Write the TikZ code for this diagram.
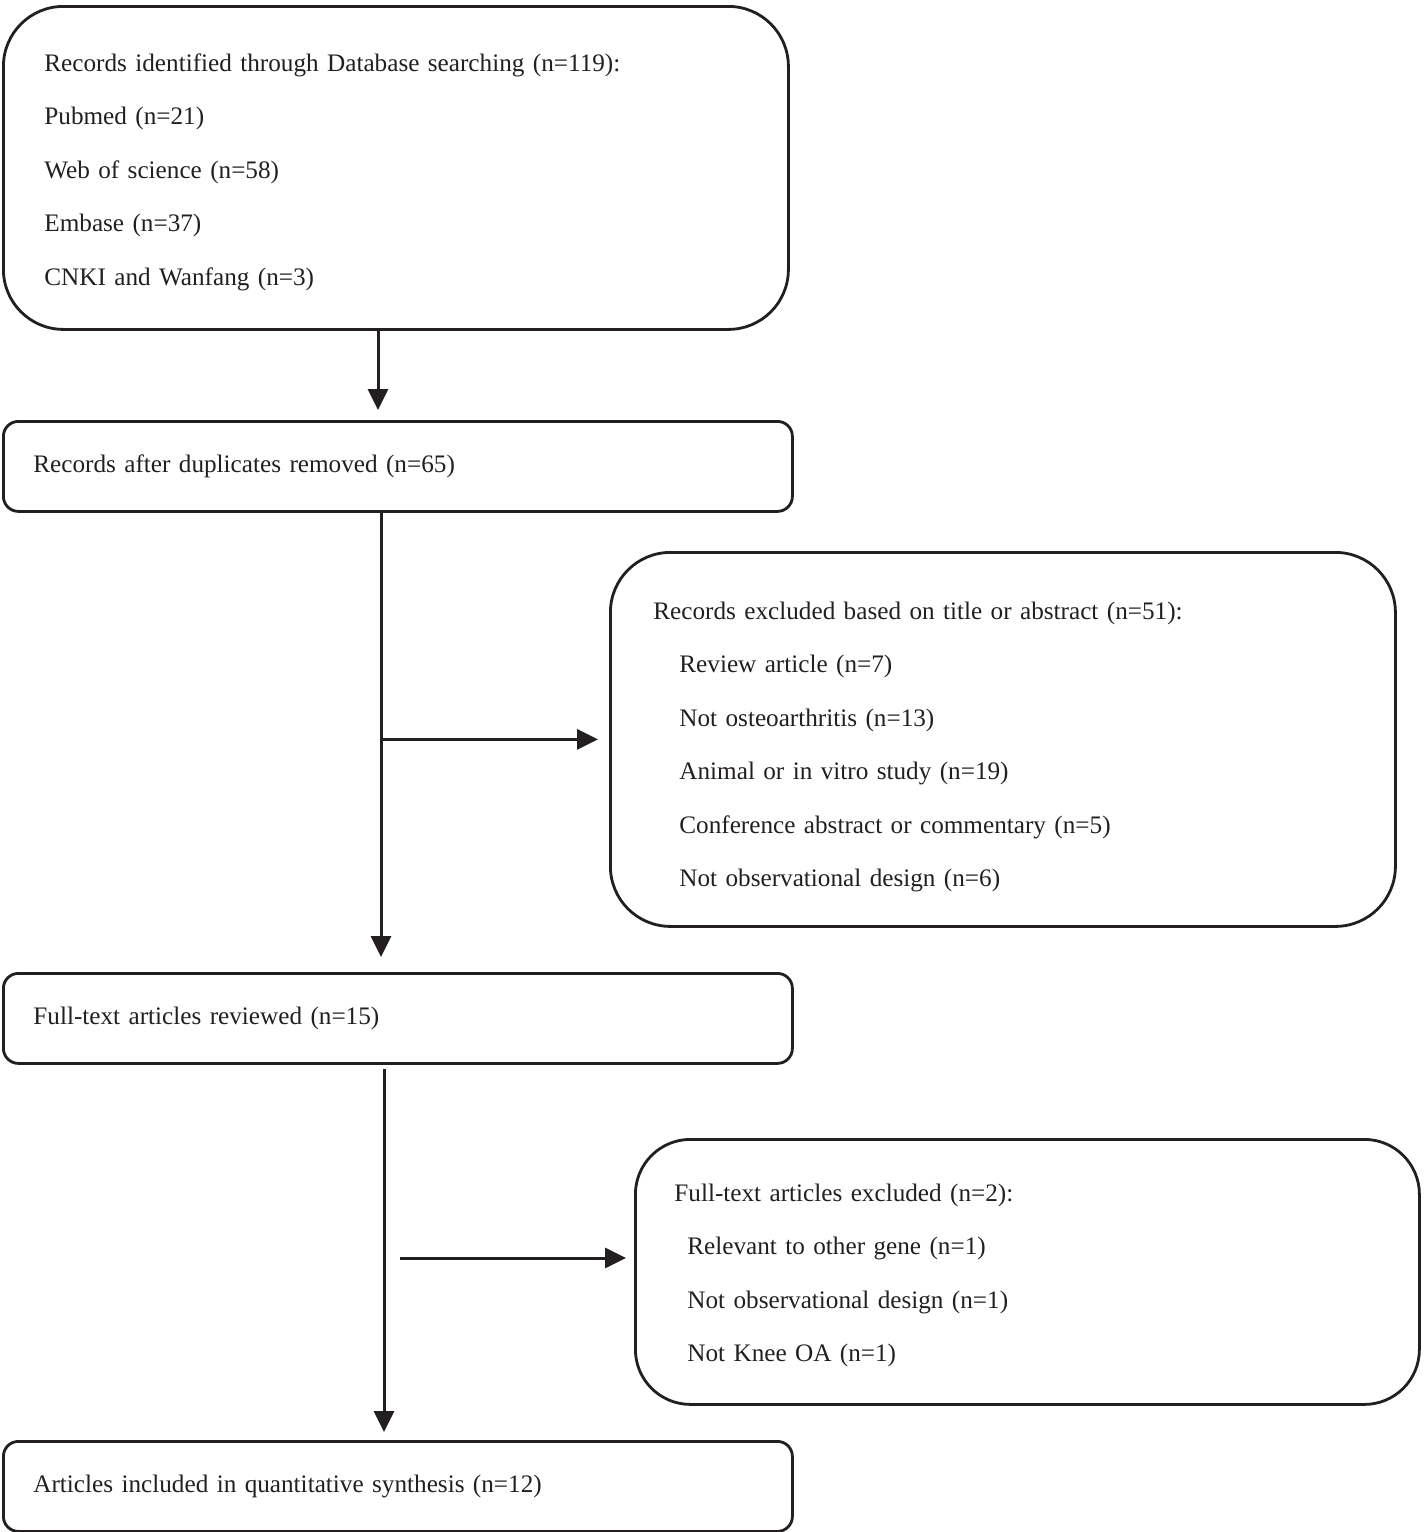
\documentclass[tikz,border=0pt]{standalone}
\usepackage{fontspec}
\setmainfont{Liberation Serif}
\usepackage{tikz}
\usetikzlibrary{arrows.meta,shapes}
\definecolor{ink}{HTML}{231F20}
\newcommand{\topgap}[1]{\rule{0pt}{#1}}
\tikzstyle{bigbox}=[draw=ink,text=ink,line width=1.4pt,rounded corners=30pt,anchor=north west,align=left,font=\fontsize{12.6}{26.75}\selectfont]
\tikzstyle{stepbox}=[draw=ink,text=ink,line width=1.4pt,rounded corners=7.5pt,anchor=north west,align=left,text width=364.5pt,inner xsep=15pt,minimum height=45pt,font=\fontsize{12.6}{26.75}\selectfont]
\tikzstyle{flow}=[draw=ink,line width=1.5pt,-{Triangle[length=10.5pt,width=10pt]}]

\begin{document}
\begin{tikzpicture}[x=0.5pt,y=-0.5pt]
    \useasboundingbox (0,0) rectangle (1424,1532);
    % First we draw the boxes of the main column
    \node[bigbox,text width=351.5pt,inner xsep=20.5pt,minimum height=161.5pt] (search) at (2,5)
        {\topgap{13pt}Records identified through Database searching (n=119):\\
         Pubmed (n=21)\\
         Web of science (n=58)\\
         Embase (n=37)\\
         CNKI and Wanfang (n=3)};
    \node[stepbox] (dedup) at (2,420) {Records after duplicates removed (n=65)};
    \node[stepbox] (fulltext) at (2,972) {Full-text articles reviewed (n=15)};
    \node[stepbox] (included) at (2,1440) {Articles included in quantitative synthesis (n=12)};

    % Then the boxes of the excluded records
    \node[bigbox,text width=349.5pt,inner xsep=21.5pt,minimum height=187pt] (excl1) at (609,551)
        {\topgap{16.5pt}Records excluded based on title or abstract (n=51):\\
         \hspace*{13pt}Review article (n=7)\\
         \hspace*{13pt}Not osteoarthritis (n=13)\\
         \hspace*{13pt}Animal or in vitro study (n=19)\\
         \hspace*{13pt}Conference abstract or commentary (n=5)\\
         \hspace*{13pt}Not observational design (n=6)};
    \node[bigbox,rounded corners=27.5pt,text width=353pt,inner xsep=19.5pt,minimum height=132.5pt] (excl2) at (634,1138)
        {\topgap{12.5pt}Full-text articles excluded (n=2):\\
         \hspace*{6.5pt}Relevant to other gene (n=1)\\
         \hspace*{6.5pt}Not observational design (n=1)\\
         \hspace*{6.5pt}Not Knee OA (n=1)};

    % Connect the boxes with arrows
    \coordinate (c1) at (378,0);
    \coordinate (c2) at (381,0);
    \coordinate (c3) at (384,0);
    \coordinate (b2) at (400,1258);
    \path[flow,shorten >=5pt] (search.south -| c1) -- (dedup.north -| c1);
    \path[flow,shorten >=7.5pt] (dedup.south -| c2) -- (fulltext.north -| c2);
    \path[flow,shorten >=5.5pt] (excl1.west -| c2) -- (excl1.west);
    \path[flow,shorten <=2pt,shorten >=4pt] (fulltext.south -| c3) -- (included.north -| c3);
    \path[flow,shorten >=4pt] (b2) -- (b2 -| excl2.west);
\end{tikzpicture}
\end{document}
